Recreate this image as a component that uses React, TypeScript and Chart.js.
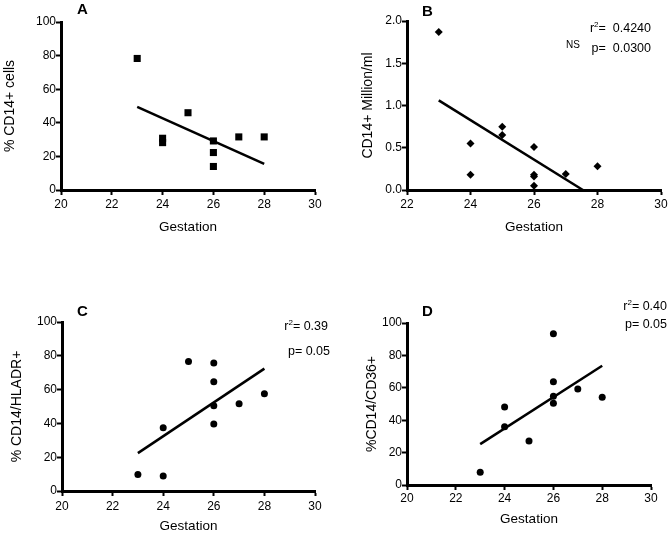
import React, { useEffect, useRef } from "react";
import { Chart, registerables } from "chart.js";

Chart.register(...registerables);

// ---------- data ----------
// Panel A
const gestationA = [23, 24, 24, 25, 26, 26, 26, 27, 28];
const cd14PctA = [78.3, 30.8, 28.2, 46, 29.2, 22.3, 14, 31.6, 31.6];
const fitGestationA = [23, 28];
const fitCd14PctA = [49.5, 15.6];

// Panel B
const gestationB = [23, 24, 24, 25, 25, 26, 26, 26, 26, 27, 28];
const cd14MillionB = [1.87, 0.55, 0.18, 0.75, 0.65, 0.51, 0.18, 0.16, 0.05, 0.19, 0.28];
const fitGestationB = [23, 27.54];
const fitCd14MillionB = [1.06, 0];

// Panel C
const gestationC = [23, 24, 24, 25, 26, 26, 26, 26, 27, 28];
const hladrPctC = [9.8, 37.4, 8.9, 76.6, 75.8, 64.6, 50.4, 39.6, 51.6, 57.5];
const fitGestationC = [23, 28];
const fitHladrPctC = [22.4, 72.4];

// Panel D
const gestationD = [23, 24, 24, 25, 26, 26, 26, 26, 27, 28];
const cd36PctD = [7.9, 48.1, 36, 27.1, 93.4, 63.8, 54.8, 50.4, 59.3, 54.1];
const fitGestationD = [23, 28];
const fitCd36PctD = [25.2, 73.6];

// axis ranges / tick steps
const xRangeA = [20, 30, 2];
const yRangeA = [0, 100, 20];
const xRangeB = [22, 30, 2];
const yRangeB = [0, 2, 0.5];
const xRangeC = [20, 30, 2];
const yRangeC = [0, 100, 20];
const xRangeD = [20, 30, 2];
const yRangeD = [0, 100, 20];

const xTitle = "Gestation";
const yTitles = ["% CD14+ cells", "CD14+ Million/ml", "% CD14/HLADR+", "%CD14/CD36+"];
const letters = ["A", "B", "C", "D"];
const statsB = { r2: "0.4240", p: "0.0300", ns: "NS" };
const statsC = { r2: "0.39", p: "0.05" };
const statsD = { r2: "0.40", p: "0.05" };

const FONT = '"Liberation Sans", Arial, Helvetica, sans-serif';

function drawStat(ctx: CanvasRenderingContext2D, kind: string, value: string, xRight: number, y: number, gap: string) {
  const big = `12.5px ${FONT}`;
  const small = `8px ${FONT}`;
  ctx.textBaseline = "middle";
  ctx.textAlign = "left";
  if (kind === "r2") {
    ctx.font = big;
    const wr = ctx.measureText("r").width;
    const rest = "=" + gap + value;
    const wrest = ctx.measureText(rest).width;
    ctx.font = small;
    const w2 = ctx.measureText("2").width;
    let x = xRight - (wr + w2 + wrest);
    ctx.font = big;
    ctx.fillText("r", x, y);
    x += wr;
    ctx.font = small;
    ctx.fillText("2", x, y - 4);
    x += w2;
    ctx.font = big;
    ctx.fillText(rest, x, y);
  } else {
    ctx.font = big;
    const s = "p=" + gap + value;
    const w = ctx.measureText(s).width;
    ctx.fillText(s, xRight - w, y);
  }
}

const textPlugin = {
  id: "panelText",
  afterDraw(chart: any, _args: any, opts: any) {
    const ctx = chart.ctx as CanvasRenderingContext2D;
    ctx.save();
    ctx.fillStyle = "#000";
    ctx.textBaseline = "middle";
    ctx.textAlign = "left";
    ctx.font = `bold 15px ${FONT}`;
    ctx.fillText(opts.letter, opts.letterX, opts.letterY);
    (opts.stats || []).forEach((s: any) => {
      if (s.kind === "ns") {
        ctx.font = `10px ${FONT}`;
        ctx.textAlign = "left";
        ctx.textBaseline = "middle";
        ctx.fillText(s.value, s.x, s.y);
      } else {
        drawStat(ctx, s.kind, s.value, s.x, s.y, s.gap || " ");
      }
    });
    ctx.restore();
  },
};

interface PanelProps {
  left: number;
  top: number;
  width: number;
  height: number;
  area: [number, number, number, number]; // l, t, r, b
  xRange: number[];
  yRange: number[];
  yDecimals: number;
  yTitle: string;
  yTitlePad: number;
  xTitlePad: number;
  xTickPad: number;
  letter: string;
  letterPos: [number, number];
  pointStyle: string;
  pointRadius: number;
  xs: number[];
  ys: number[];
  fitX: number[];
  fitY: number[];
  stats: any[];
}

function Panel(p: PanelProps) {
  const ref = useRef<HTMLCanvasElement>(null);
  useEffect(() => {
    if (!ref.current) return;
    const [l, t, r, b] = p.area;
    const chart = new Chart(ref.current, {
      type: "scatter",
      data: {
        datasets: [
          {
            data: p.xs.map((x, i) => ({ x, y: p.ys[i] })),
            pointStyle: p.pointStyle as any,
            pointRadius: p.pointRadius,
            pointBackgroundColor: "#000",
            pointBorderColor: "#000",
            pointBorderWidth: 0,
            showLine: false,
            clip: false as any,
          },
          {
            data: p.fitX.map((x, i) => ({ x, y: p.fitY[i] })),
            showLine: true,
            borderColor: "#000",
            borderWidth: 2.5,
            pointRadius: 0,
            clip: false as any,
          },
        ],
      },
      options: {
        responsive: false,
        animation: false,
        layout: { padding: { left: 0, top: t, right: p.width - r, bottom: 0 } },
        plugins: {
          legend: { display: false },
          tooltip: { enabled: false },
          panelText: {
            letter: p.letter,
            letterX: p.letterPos[0],
            letterY: p.letterPos[1],
            stats: p.stats,
          },
        } as any,
        scales: {
          x: {
            type: "linear",
            min: p.xRange[0],
            max: p.xRange[1],
            afterFit: (s: any) => {
              s.height = p.height - b;
            },
            ticks: {
              stepSize: p.xRange[2],
              autoSkip: false,
              color: "#000",
              padding: p.xTickPad,
              font: { family: FONT, size: 12 },
            },
            grid: {
              drawOnChartArea: false,
              drawTicks: true,
              tickLength: 5,
              tickWidth: 2,
              tickColor: "#000",
            },
            border: { display: true, color: "#000", width: 3 },
            title: {
              display: true,
              text: xTitle,
              color: "#000",
              font: { family: FONT, size: 13.5 },
              padding: { top: 0, bottom: p.xTitlePad },
            },
          },
          y: {
            type: "linear",
            min: p.yRange[0],
            max: p.yRange[1],
            afterFit: (s: any) => {
              s.width = l;
            },
            ticks: {
              stepSize: p.yRange[2],
              autoSkip: false,
              color: "#000",
              padding: 0,
              font: { family: FONT, size: 12 },
              callback: (v: any) => Number(v).toFixed(p.yDecimals),
            },
            grid: {
              drawOnChartArea: false,
              drawTicks: true,
              tickLength: 5,
              tickWidth: 2,
              tickColor: "#000",
            },
            border: { display: true, color: "#000", width: 3 },
            title: {
              display: true,
              text: p.yTitle,
              color: "#000",
              font: { family: FONT, size: 14 },
              padding: { top: p.yTitlePad, bottom: 0 },
            },
          },
        },
      },
      plugins: [textPlugin as any],
    });
    return () => chart.destroy();
  }, []);
  return (
    <canvas
      ref={ref}
      width={p.width}
      height={p.height}
      style={{ position: "absolute", left: p.left, top: p.top, width: p.width, height: p.height, display: "block" }}
    />
  );
}

export default function App() {
  return (
    <div style={{ position: "absolute", left: 0, top: 0, width: 671, height: 536, background: "#fff" }}>
      <Panel
        left={0}
        top={0}
        width={335}
        height={268}
        area={[61, 22, 315, 190]}
        xRange={xRangeA}
        yRange={yRangeA}
        yDecimals={0}
        yTitle={yTitles[0]}
        yTitlePad={1.6}
        xTitlePad={32.9}
        xTickPad={2}
        letter={letters[0]}
        letterPos={[77, 10]}
        pointStyle="rect"
        pointRadius={5}
        xs={gestationA}
        ys={cd14PctA}
        fitX={fitGestationA}
        fitY={fitCd14PctA}
        stats={[]}
      />
      <Panel
        left={335}
        top={0}
        width={336}
        height={268}
        area={[72, 21, 326, 190]}
        xRange={xRangeB}
        yRange={yRangeB}
        yDecimals={1}
        yTitle={yTitles[1]}
        yTitlePad={24.6}
        xTitlePad={32.9}
        xTickPad={2}
        letter={letters[1]}
        letterPos={[87, 12]}
        pointStyle="rectRot"
        pointRadius={4}
        xs={gestationB}
        ys={cd14MillionB}
        fitX={fitGestationB}
        fitY={fitCd14MillionB}
        stats={[
          { kind: "r2", value: statsB.r2, x: 316, y: 29, gap: "  " },
          { kind: "p", value: statsB.p, x: 316, y: 49, gap: "  " },
          { kind: "ns", value: statsB.ns, x: 231, y: 45 },
        ]}
      />
      <Panel
        left={0}
        top={268}
        width={335}
        height={268}
        area={[62, 54, 315, 223]}
        xRange={xRangeC}
        yRange={yRangeC}
        yDecimals={0}
        yTitle={yTitles[2]}
        yTitlePad={8.6}
        xTitlePad={1.9}
        xTickPad={3}
        letter={letters[2]}
        letterPos={[77, 44]}
        pointStyle="circle"
        pointRadius={3.5}
        xs={gestationC}
        ys={hladrPctC}
        fitX={fitGestationC}
        fitY={fitHladrPctC}
        stats={[
          { kind: "r2", value: statsC.r2, x: 328, y: 59 },
          { kind: "p", value: statsC.p, x: 330, y: 84 },
        ]}
      />
      <Panel
        left={335}
        top={268}
        width={336}
        height={268}
        area={[72, 55, 316, 217]}
        xRange={xRangeD}
        yRange={yRangeD}
        yDecimals={0}
        yTitle={yTitles[3]}
        yTitlePad={28.6}
        xTitlePad={8.9}
        xTickPad={1}
        letter={letters[3]}
        letterPos={[87, 44]}
        pointStyle="circle"
        pointRadius={3.5}
        xs={gestationD}
        ys={cd36PctD}
        fitX={fitGestationD}
        fitY={fitCd36PctD}
        stats={[
          { kind: "r2", value: statsD.r2, x: 332, y: 39 },
          { kind: "p", value: statsD.p, x: 332, y: 57 },
        ]}
      />
    </div>
  );
}
